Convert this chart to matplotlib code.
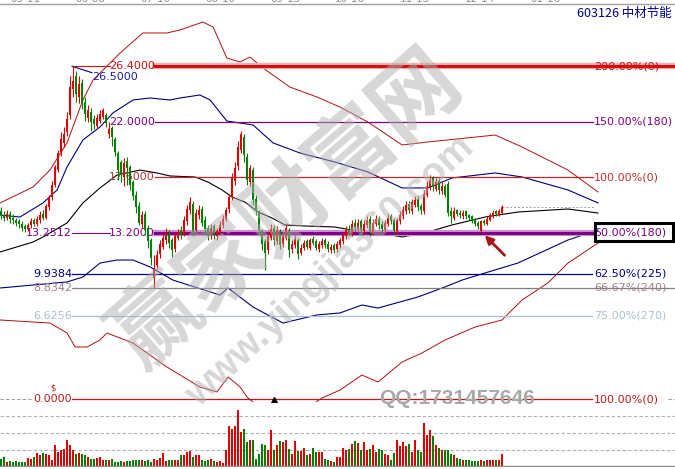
import numpy as np
import matplotlib
matplotlib.use("Agg")
import matplotlib.pyplot as plt
from matplotlib.lines import Line2D
from matplotlib.patches import Rectangle

plt.rcParams['font.family'] = ['DejaVu Sans', 'Noto Sans CJK SC']

# daily candles (price)
opens = [14.9, 14.6, 14.4, 14.7, 14.4, 14.2, 14.1, 13.9, 13.7, 13.5, 13.8, 14.2, 13.9, 14.2, 14.7, 14.4,
         15.2, 16.0, 17.0, 18.2, 19.6, 20.3, 21.2, 22.5, 24.6, 25.6, 24.0, 25.1, 23.6, 22.3, 22.8, 22.2,
         21.7, 22.1, 22.4, 22.5, 21.0, 21.5, 20.6, 19.5, 18.8, 17.6, 18.9, 18.4, 17.2, 16.2, 15.3, 13.9,
         14.7, 13.6, 12.6, 9.6, 10.6, 11.5, 12.1, 12.6, 13.1, 12.6, 11.9, 12.8, 13.4, 13.1, 14.1, 15.0,
         15.5, 13.4, 14.6, 15.1, 14.2, 13.6, 13.0, 13.7, 12.9, 13.2, 13.8, 14.3, 15.1, 16.0, 17.3, 18.5,
         19.8, 20.8, 19.2, 17.2, 18.2, 15.9, 14.8, 13.3, 12.5, 11.8, 12.8, 13.6, 12.5, 13.3, 12.3, 12.8,
         13.4, 11.9, 12.2, 12.6, 11.6, 12.0, 12.5, 12.0, 12.7, 12.5, 11.9, 12.2, 12.6, 12.3, 11.8, 12.2,
         11.9, 12.2, 12.5, 12.9, 13.5, 13.1, 14.0, 13.5, 14.1, 13.3, 13.8, 14.3, 13.2, 13.9, 14.3, 13.9,
         13.4, 13.9, 14.5, 14.2, 13.3, 14.1, 14.5, 14.9, 15.5, 14.9, 15.4, 15.9, 15.3, 14.9, 16.2, 16.8,
         17.5, 16.7, 17.3, 16.5, 16.9, 17.1, 14.9, 14.4, 15.0, 14.8, 14.5, 14.9, 14.6, 14.5, 14.3, 14.0,
         13.3, 14.1, 13.9, 14.2, 14.5, 14.9, 14.6, 14.8]
highs = [15.2, 14.9, 15.0, 14.9, 14.7, 14.4, 14.3, 14.1, 13.9, 14.0, 14.4, 14.4, 14.5, 14.9, 15.0, 15.5,
         16.2, 17.3, 18.6, 19.8, 21.2, 21.6, 22.8, 25.6, 26.4, 26.0, 25.6, 25.4, 24.0, 23.3, 23.1, 22.5,
         22.6, 22.9, 23.1, 22.7, 22.0, 21.7, 20.8, 19.7, 19.0, 19.1, 19.2, 18.6, 17.4, 16.5, 15.6, 14.9,
         14.9, 13.8, 12.8, 11.4, 11.8, 12.6, 13.1, 13.6, 13.4, 12.8, 13.2, 13.5, 13.7, 14.5, 15.4, 16.0,
         15.7, 15.1, 15.4, 15.3, 14.5, 13.8, 13.9, 13.9, 13.6, 14.1, 14.6, 15.2, 16.3, 17.9, 18.8, 20.5,
         21.3, 21.0, 19.5, 18.6, 18.4, 16.2, 15.0, 13.5, 12.7, 13.3, 13.9, 13.8, 13.7, 13.5, 13.2, 14.0,
         13.6, 12.6, 13.0, 12.8, 12.3, 12.6, 12.7, 12.8, 12.9, 12.7, 12.5, 12.8, 12.8, 12.5, 12.3, 12.4,
         12.5, 12.8, 13.2, 13.7, 13.8, 14.2, 14.3, 14.3, 14.3, 14.2, 14.5, 14.5, 14.3, 14.6, 14.5, 14.1,
         14.2, 14.7, 14.7, 14.4, 14.4, 14.9, 15.3, 15.7, 15.7, 15.9, 16.1, 16.1, 15.5, 16.6, 17.3, 17.8,
         17.7, 17.5, 17.5, 17.2, 17.1, 17.3, 15.2, 15.2, 15.1, 15.0, 15.0, 15.0, 14.7, 14.6, 14.4, 14.1,
         14.2, 14.3, 14.5, 14.8, 15.0, 15.0, 15.1, 15.4]
lows = [14.3, 14.1, 14.2, 14.0, 13.9, 13.7, 13.6, 13.3, 13.25, 13.3, 13.6, 13.7, 13.7, 14.0, 14.2, 14.3,
        15.0, 15.8, 16.8, 18.0, 19.3, 20.0, 20.9, 22.2, 24.0, 23.6, 23.5, 23.0, 22.1, 22.0, 21.3, 21.4,
        21.5, 21.9, 22.2, 21.6, 20.7, 20.1, 19.3, 17.4, 17.2, 16.9, 17.0, 16.6, 15.8, 14.8, 13.8, 13.6,
        13.0, 12.0, 10.6, 8.83, 10.3, 11.2, 11.9, 12.3, 12.0, 11.3, 11.7, 12.6, 12.7, 12.9, 13.8, 14.7,
        12.9, 13.1, 14.3, 13.7, 13.1, 12.6, 12.7, 12.7, 12.6, 13.0, 13.6, 14.1, 14.8, 15.8, 17.0, 18.2,
        19.5, 18.8, 17.0, 16.9, 15.4, 14.6, 13.0, 11.8, 10.2, 11.5, 12.6, 12.2, 12.3, 11.9, 12.1, 12.6,
        11.3, 11.6, 12.0, 11.1, 11.4, 11.8, 11.9, 11.8, 12.2, 11.8, 11.7, 12.0, 12.0, 11.7, 11.6, 11.6,
        11.7, 12.0, 12.3, 12.7, 12.9, 12.9, 13.3, 13.3, 13.0, 13.1, 13.6, 12.9, 13.0, 13.7, 13.5, 13.2,
        13.2, 13.7, 13.9, 13.1, 13.1, 13.9, 14.3, 14.7, 14.8, 14.7, 15.2, 14.9, 14.7, 14.7, 16.0, 16.6,
        16.5, 16.5, 16.3, 16.3, 16.0, 14.5, 14.0, 14.2, 14.5, 14.4, 14.3, 14.3, 14.2, 14.0, 13.7, 13.5,
        13.25, 13.8, 13.8, 14.1, 14.4, 14.5, 14.5, 14.7]
closes = [14.6, 14.4, 14.7, 14.3, 14.2, 14.0, 13.9, 13.6, 13.5, 13.8, 14.1, 13.9, 14.3, 14.6, 14.4, 15.3,
          16.0, 17.0, 18.4, 19.5, 20.6, 21.0, 22.2, 24.8, 25.2, 24.2, 25.0, 23.5, 22.6, 22.9, 22.0, 21.8,
          22.3, 22.6, 22.9, 21.9, 21.4, 20.8, 19.6, 18.2, 17.8, 18.7, 18.3, 17.0, 16.1, 15.2, 14.0, 14.6,
          13.4, 12.5, 11.2, 10.3, 11.4, 12.3, 12.8, 13.2, 12.4, 11.8, 12.9, 13.2, 13.0, 14.2, 15.1, 15.6,
          13.2, 14.8, 15.0, 14.0, 13.5, 12.9, 13.6, 13.0, 13.3, 13.8, 14.3, 15.0, 16.0, 17.5, 18.3, 20.0,
          21.0, 19.4, 17.4, 18.3, 15.8, 14.9, 13.4, 12.3, 11.6, 12.9, 13.5, 12.6, 13.4, 12.2, 12.9, 13.6,
          11.8, 12.3, 12.7, 11.5, 12.0, 12.4, 12.1, 12.6, 12.4, 12.0, 12.3, 12.5, 12.2, 11.9, 12.1, 11.8,
          12.3, 12.6, 13.0, 13.4, 13.2, 13.9, 13.6, 14.0, 13.4, 13.9, 14.2, 13.3, 14.0, 14.3, 13.8, 13.5,
          14.0, 14.4, 14.1, 13.4, 14.2, 14.6, 15.0, 15.4, 15.0, 15.6, 15.8, 15.2, 15.0, 16.3, 16.9, 17.4,
          16.8, 17.2, 16.6, 16.9, 16.2, 14.8, 14.5, 14.9, 14.7, 14.6, 14.8, 14.5, 14.4, 14.2, 13.9, 13.7,
          14.1, 14.0, 14.3, 14.6, 14.8, 14.7, 14.9, 15.2]
volumes = [8, 10, 5, 6, 5, 6, 5, 5, 5, 9, 8, 10, 14, 12, 14, 13, 12, 7, 22, 15, 17, 18, 27, 22,
           17, 13, 14, 13, 12, 10, 8, 8, 9, 10, 7, 7, 7, 8, 5, 5, 6, 5, 6, 6, 7, 7, 7, 7,
           6, 7, 5, 8, 7, 9, 14, 6, 7, 7, 7, 7, 12, 12, 15, 16, 10, 12, 12, 7, 6, 7, 8, 6,
           5, 6, 4, 17, 41, 38, 41, 57, 35, 38, 25, 27, 27, 8, 13, 23, 22, 17, 37, 17, 22, 26,
           25, 27, 18, 13, 26, 16, 16, 19, 12, 13, 19, 15, 15, 15, 8, 7, 6, 5, 10, 10, 19, 17,
           18, 23, 26, 24, 17, 25, 17, 18, 22, 15, 18, 17, 13, 12, 7, 14, 27, 21, 25, 21, 23, 15,
           27, 17, 15, 44, 32, 37, 31, 22, 19, 17, 17, 17, 13, 12, 9, 8, 7, 7, 7, 6, 6, 6,
           7, 6, 7, 7, 7, 7, 7, 13]

# band lines (x in bar index, value in price)
mid_x = [-0.3, 10.7, 14, 22, 27.3, 33, 38.7, 46.3, 52, 56.3, 64.7, 69, 73.7, 77, 81.3, 85.7, 90.3,
         94.7, 101.3, 111.3, 117, 122.3, 133.7, 142.3, 150.3, 161.3, 172.3, 189, 199]
mid_y = [11.67, 12.46, 12.86, 13.97, 15.56, 16.75, 17.78, 18.17, 17.94, 17.70, 17.62, 17.22, 16.59,
         16.03, 15.63, 14.84, 14.37, 13.81, 13.73, 13.65, 13.41, 13.33, 12.86, 13.25, 13.81, 14.44,
         14.84, 15.08, 14.76]
up1_x = [-0.3, 6.3, 14, 18.7, 22, 27.3, 33, 37.3, 44, 49.7, 56.3, 59.7, 66.3, 69.7, 75.3, 84, 90.7,
         99.7, 111.3, 122.3, 133.7, 142.3, 150.3, 164.7, 173.7, 189, 199]
up1_y = [14.60, 14.44, 15.56, 16.59, 18.41, 20.56, 21.59, 22.70, 23.73, 23.89, 23.73, 23.89, 24.13,
         23.73, 22.06, 21.75, 20.32, 19.52, 18.81, 18.02, 16.75, 16.75, 17.54, 17.94, 17.62, 16.59, 15.56]
dn1_x = [-0.3, 22, 27.3, 33, 38.7, 44, 49.7, 57.3, 73, 75.7, 84, 94, 105.3, 113, 120.3, 125.7, 139,
         148, 153.7, 161.3, 172.3, 189, 199]
dn1_y = [8.81, 9.29, 9.68, 10.79, 11.03, 11.03, 10.48, 9.44, 8.25, 8.81, 7.30, 6.03, 6.67, 6.83,
         7.46, 7.22, 8.10, 8.89, 9.44, 10.0, 10.79, 12.62, 13.41]
up2_x = [-0.3, 10.7, 16.3, 22, 27.3, 30.7, 39.7, 47.3, 55.3, 59.7, 67.3, 70.7, 75.3, 79.7, 83, 87.3,
         96.3, 105.3, 113, 122.3, 133.7, 142.3, 164.7, 173.7, 189, 199]
up2_y = [15.56, 16.83, 18.17, 20.32, 23.73, 25.32, 27.46, 29.05, 29.05, 29.29, 29.92, 29.52, 27.06,
         26.75, 27.14, 26.27, 24.76, 23.97, 23.17, 21.98, 20.16, 20.40, 20.95, 20.0, 18.17, 16.43]
dn2_x = [-0.3, 10.7, 16.3, 22, 24.7, 28.7, 33, 35.3, 44, 55.3, 66.3, 72, 75.7, 79.7, 82, 85.3, 96,
         104, 107, 113, 120.3, 125.7, 133.7, 140.3, 148, 158, 167, 173.7, 182.3, 189, 199]
dn2_y = [6.27, 6.11, 6.03, 5.24, 4.13, 4.13, 4.68, 5.24, 4.44, 2.54, 0.95, 0.56, 1.75, 0.95, 0.16,
         -0.5, -0.9, -0.4, 0.08, 0.71, 1.90, 1.35, 2.94, 3.65, 4.68, 5.71, 6.27, 7.86, 9.21, 10.79, 12.38]

# golden / gann levels
level_prices = [26.4, 22.0, 17.6, 13.2, 9.9384, 8.8342, 6.6256, 0.0]
level_names = ["200.00%(0)", "150.00%(180)", "100.00%(0)", "50.00%(180)",
               "62.50%(225)", "66.67%(240)", "75.00%(270)", "100.00%(0)"]
level_colors = ["#d01010", "#800080", "#c02828", "#800080", "#000080", "#808080", "#a8c0d8", "#c01818"]
text_colors = ["#d01010", "#800080", "#c03030", "#800080", "#000080", "#a08080", "#a8c0d8", "#c01818"]
low_mark = 13.2512
peak_mark = 26.5

dates = ["05-11", "06-08", "07-10", "08-10", "09-13", "10-18", "11-15", "12-14", "01-16"]
date_px = [25, 90, 155, 220, 285, 350, 415, 480, 545]

W, H = 675, 469
PPU = 12.6  # pixels per yuan


def fx(px):
    return px / W


def fy(py):
    return 1 - py / H


def xi(px):
    return (px - 1) / 3.0


fig = plt.figure(figsize=(6.75, 4.69), dpi=100)
fig.patch.set_facecolor("white")

ax = fig.add_axes([0, fy(402), 1, (402 - 5) / H])
ax.set_xlim(xi(0), xi(675))
ax.set_ylim(-3 / PPU, 394 / PPU)
ax.axis("off")

vax = fig.add_axes([0, fy(467), 1, 62 / H])
vax.set_xlim(xi(0), xi(675))
vax.set_ylim(0, 62)
vax.axis("off")

o = np.array(opens)
c = np.array(closes)
hi = np.array(highs)
lo = np.array(lows)
idx = np.arange(len(c))
cols = np.where(c >= o, "#e00000", "#008000")

# bands
ax.plot(up2_x, up2_y, color="#b01010", lw=0.7, zorder=2)
ax.plot(dn2_x, dn2_y, color="#b01010", lw=0.7, zorder=2)
ax.plot(up1_x, up1_y, color="#000080", lw=0.8, zorder=2)
ax.plot(dn1_x, dn1_y, color="#000080", lw=0.8, zorder=2)
ax.plot(mid_x, mid_y, color="black", lw=0.8, zorder=2)

# levels
for k, (p, name) in enumerate(zip(level_prices, level_names)):
    col = level_colors[k]
    lab = "%.4f" % p
    if k < 4:
        if k in (0, 3):
            ax.plot([xi(72), xi(110)], [p, p], color=col, lw=0.8, zorder=3)
        right = 675 if k == 0 else 593
        lw = 2.2 if k in (0, 3) else 0.9
        if k == 0:
            ax.plot([xi(155), xi(right)], [p, p], color="#f4b0b0", lw=4.5, zorder=3)
        if k == 3:
            ax.plot([xi(155), xi(right)], [p, p], color="#c890d8", lw=4.5, zorder=3)
        ax.plot([xi(155), xi(right)], [p, p], color=col, lw=lw, zorder=3)
        ax.text(xi(155), p, lab, ha="right", va="center", fontsize=8, color=text_colors[k], zorder=4)
    else:
        right = 675 if k == 5 else 592
        ax.plot([xi(72), xi(right)], [p, p], color=col, lw=0.9, zorder=3)
        ax.text(xi(72), p, lab, ha="right", va="center", fontsize=8, color=text_colors[k], zorder=4)
    ax.text(xi(594), p, name, ha="left", va="center", fontsize=8, color=text_colors[k], zorder=4)

ax.text(xi(72), level_prices[3], "%.4f" % low_mark, ha="right", va="center", fontsize=8, color="#800080")
ax.plot([23.7, 30.3], [26.4, 25.9], color="#000080", lw=0.8, zorder=3)
ax.text(xi(92), peak_mark - 0.95, "%.4f" % peak_mark, ha="left", va="center", fontsize=8, color="#2020a0")
ax.plot([xi(0), xi(33)], [0, 0], color="#a0a0a0", lw=0.8, ls=(0, (3, 2)))
ax.plot([xi(668), xi(675)], [0, 0], color="#a0a0a0", lw=0.8, ls=(0, (3, 2)))
ax.text(xi(53), 0.85, "$", fontsize=6, color="#c01818", ha="center", va="center")
ax.plot([xi(274)], [-0.1], marker="^", color="black", ms=4.5, zorder=5)

# candles
ax.vlines(idx, lo, hi, colors=cols, lw=0.8, zorder=5)
body = np.maximum(np.abs(c - o), 0.08)
ax.bar(idx, body, bottom=np.minimum(o, c), width=0.72, color=cols, zorder=5)
ax.plot([idx[-1], xi(595)], [c[-1], c[-1]], color="#a0a0a0", lw=0.7, ls=(0, (2, 2)), zorder=2)

ax.annotate("", xy=(idx[160] + 0.6, lo[160] - 0.1), xytext=(idx[-1] + 1.5, lo[160] - 2.0),
            arrowprops=dict(arrowstyle="-|>", color="#a01818", lw=2, mutation_scale=12), zorder=6)

# volume
for g in (17, 34, 51):
    vax.plot([xi(0), xi(675)], [g, g], color="#b0b0b0", lw=0.8, ls=(0, (3, 2)))
vax.bar(idx, volumes, width=0.72, color=cols, zorder=3)
vax.plot([xi(0), xi(675)], [0, 0], color="#909090", lw=2.5, zorder=4)

# frame bits
fig.add_artist(Line2D([0, 1], [fy(4), fy(4)], color="#a0a0a0", lw=1))
for d, px in zip(dates, date_px):
    fig.text(fx(px), fy(2), d, ha="center", va="baseline", fontsize=7.5, color="#909090")
fig.text(fx(672), fy(13), "603126 中材节能", ha="right", va="center", fontsize=9, color="#000080",
         family=["Noto Sans CJK SC", "DejaVu Sans"])
fig.add_artist(Rectangle((fx(595), fy(241)), 78 / W, 18 / H, transform=fig.transFigure,
                         fill=False, ec="black", lw=2.2))

# watermark
fig.text(fx(287), fy(210), "赢家财富网", rotation=41, ha="center", va="center", fontsize=62,
         fontweight="bold", color="#b0b0b0", alpha=0.5, family=["Noto Sans CJK SC"],
         rotation_mode="anchor", zorder=10)
fig.text(fx(330), fy(272), "www.yingjia360.com", rotation=43, ha="center", va="center", fontsize=28,
         fontweight="bold", color="#b0b0b0", alpha=0.5, family=["Liberation Sans"],
         rotation_mode="anchor", zorder=10)
fig.text(fx(457), fy(398), "QQ:1731457646", ha="center", va="center", fontsize=15,
         fontweight="bold", color="#a8a8a8", family=["Liberation Sans"], zorder=10)

fig.savefig("out.png", dpi=100)
